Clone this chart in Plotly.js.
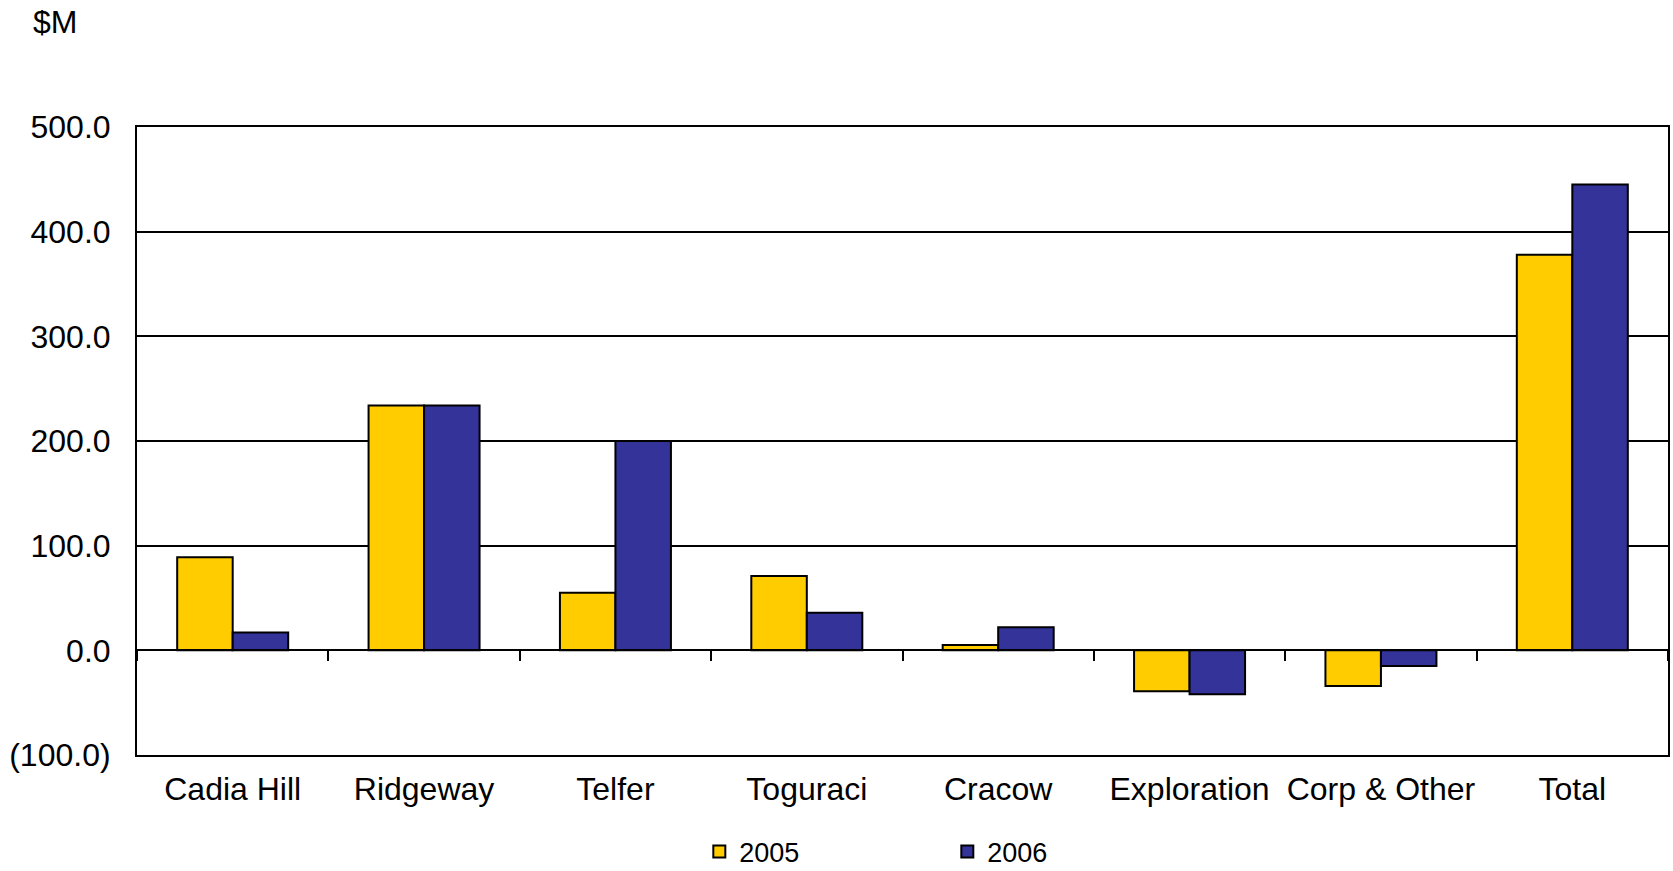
<!DOCTYPE html>
<html>
<head>
<meta charset="utf-8">
<script src="https://cdn.plot.ly/plotly-3.0.1.min.js"></script>
<style>html,body{margin:0;padding:0;background:#fff;}#chart{width:1673px;height:871px;}</style>
</head>
<body>
<div id="chart"></div>
<script>
var categories = ["Cadia Hill", "Ridgeway", "Telfer", "Toguraci", "Cracow", "Exploration", "Corp & Other", "Total"];
var values2005 = [89, 234, 55, 71, 5, -39, -34, 378];
var values2006 = [17, 234, 200, 36, 22, -42, -15, 445];
var seriesNames = ["2005", "2006"];
var yTickVals = [-100, 0, 100, 200, 300, 400, 500];
var yTickText = ["(100.0)", "0.0", "100.0", "200.0", "300.0", "400.0", "500.0"];
var yRange = [-100, 500];
var boundaries = [];
for (var i = 0; i <= categories.length; i++) boundaries.push(i - 0.5);

var font = "Liberation Sans, Arial, sans-serif";

var traces = [
  {type: "bar", name: seriesNames[0], x: categories, y: values2005,
   marker: {color: "#FFCC00", line: {color: "#000", width: 2}}},
  {type: "bar", name: seriesNames[1], x: categories, y: values2006,
   marker: {color: "#333399", line: {color: "#000", width: 2}}},
  {type: "scatter", mode: "lines", x: [boundaries[0]], y: [0], xaxis: "x2", yaxis: "y",
   showlegend: false, hoverinfo: "skip", line: {color: "rgba(0,0,0,0)"}}
];

var layout = {
  width: 1673, height: 871,
  margin: {l: 137, r: 5, t: 127, b: 116},
  paper_bgcolor: "#fff", plot_bgcolor: "#fff",
  font: {family: font, size: 32, color: "#000"},
  barmode: "group", bargap: 0.42, bargroupgap: 0,
  showlegend: true,
  legend: {orientation: "h", xref: "container", yref: "container",
           x: 0.418, y: 0.022, xanchor: "left", yanchor: "middle",
           font: {size: 27}, entrywidth: 203, traceorder: "normal"},
  xaxis: {type: "category", range: [-0.5, 7.5], showline: true, linecolor: "#000", linewidth: 2,
          mirror: true, ticks: "", ticklabelstandoff: 5, showgrid: false, zeroline: false,
          fixedrange: true},
  xaxis2: {type: "linear", overlaying: "x", anchor: "free",
           position: (0 - yRange[0]) / (yRange[1] - yRange[0]),
           range: [-0.5, 7.5], tickmode: "array", tickvals: boundaries, showticklabels: false,
           ticks: "outside", ticklen: 10, tickwidth: 2, tickcolor: "#000",
           showline: true, linecolor: "#000", linewidth: 2, showgrid: false, zeroline: false},
  yaxis: {range: yRange, tickmode: "array", tickvals: yTickVals, ticktext: yTickText,
          showline: true, linecolor: "#000", linewidth: 2, mirror: true,
          showgrid: true, gridcolor: "#000", gridwidth: 2, zeroline: false,
          ticks: "", ticklabelstandoff: 18},
  annotations: [{text: "$M", xref: "paper", yref: "paper", x: -0.069, y: 1.167,
                 xanchor: "left", yanchor: "middle", showarrow: false, font: {size: 32}}]
};

Plotly.newPlot("chart", traces, layout, {displayModeBar: false, staticPlot: true});
</script>
</body>
</html>
